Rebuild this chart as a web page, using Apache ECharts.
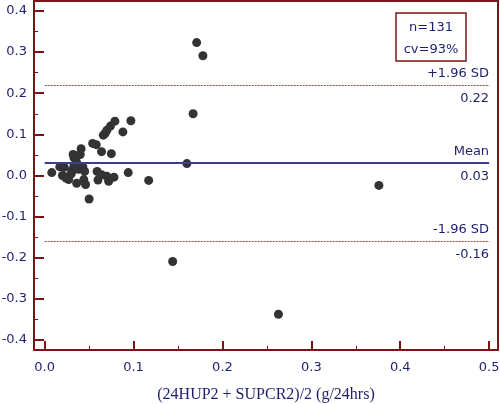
<!DOCTYPE html>
<html>
<head>
<meta charset="utf-8">
<script src="https://cdn.jsdelivr.net/npm/echarts@6/dist/echarts.min.js"></script>
<style>
  html, body { margin: 0; padding: 0; background: #fff; }
  #chart { width: 500px; height: 404px; }
</style>
</head>
<body>
<div id="chart"></div>
<script>
// mean of the two methods (x) and their difference (y)
var meanVals = [0.008, 0.017, 0.021, 0.020, 0.024, 0.029, 0.031, 0.033, 0.033, 0.032,
  0.036, 0.041, 0.040, 0.036, 0.043, 0.036, 0.044, 0.046, 0.050, 0.054,
  0.058, 0.064, 0.059, 0.060, 0.064, 0.070, 0.072, 0.078, 0.075, 0.068,
  0.070, 0.074, 0.079, 0.088, 0.097, 0.094, 0.027, 0.038, 0.030, 0.045,
  0.022, 0.034, 0.066,
  0.171, 0.178, 0.167, 0.160, 0.117, 0.376, 0.144, 0.263];
var diffVals = [0.007, 0.021, 0.021, 0.000, -0.006, 0.002, 0.013, 0.024, 0.043, 0.051,
  0.047, 0.065, 0.051, 0.031, 0.021, -0.019, -0.010, -0.022, -0.057, 0.078,
  0.075, 0.058, 0.010, -0.011, 0.002, -0.002, -0.014, -0.004, 0.053, 0.102,
  0.110, 0.120, 0.132, 0.106, 0.133, 0.007, -0.010, 0.015, 0.005, 0.010,
  0.020, 0.018, 0.098,
  0.323, 0.291, 0.150, 0.029, -0.012, -0.024, -0.209, -0.337];

var meanDiff = 0.03;
var upperLoA = 0.22;
var lowerLoA = -0.16;
var lineEnd = 0.5;

var yTicks = [-0.4, -0.3, -0.2, -0.1, 0.0, 0.1, 0.2, 0.3, 0.4];
var yMinorTicks = [-0.35, -0.25, -0.15, -0.05, 0.05, 0.15, 0.25, 0.35];
var xTicks = [0.0, 0.1, 0.2, 0.3, 0.4, 0.5];
var xMinorTicks = [0.05, 0.15, 0.25, 0.35, 0.45];

var axisRed = '#7b1416';
var navy = '#1c1f6e';

var points = meanVals.map(function (v, i) { return [v, diffVals[i]]; });

var chart = echarts.init(document.getElementById('chart'));

function limitLine(val, top, bottom, style) {
  return [
    [{ coord: [0, val], lineStyle: style, label: { position: 'insideEndTop', formatter: top, distance: [0, 5] } },
     { coord: [lineEnd, val] }],
    [{ coord: [0, val], lineStyle: { color: 'rgba(0,0,0,0)', width: 0 }, label: { position: 'insideEndBottom', formatter: bottom, distance: [0, 7] } },
     { coord: [lineEnd, val] }]
  ];
}

var dotted = { color: '#9a4a4a', type: [2, 1], width: 1 };
var solid = { color: '#3b3f8c', type: 'solid', width: 2 };

var option = {
  animation: false,
  grid: {
    left: 34, right: 2, top: 1, bottom: 54,
    outerBoundsMode: 'none', containLabel: false,
    show: true, borderColor: axisRed, borderWidth: 2
  },
  xAxis: [{
    type: 'value', min: -0.012, max: 0.51,
    splitLine: { show: false },
    axisLine: { onZero: false, lineStyle: { color: axisRed, width: 2 } },
    axisTick: { inside: true, length: 9, customValues: xTicks, lineStyle: { color: axisRed, width: 2 } },
    axisLabel: {
      customValues: xTicks, margin: 11, color: navy,
      fontFamily: 'DejaVu Sans', fontSize: 13,
      formatter: function (v) { return v.toFixed(1); }
    },
    name: '(24HUP2 + SUPCR2)/2 (g/24hrs)',
    nameLocation: 'middle', nameGap: 37,
    nameTextStyle: { color: navy, fontFamily: 'Liberation Serif', fontSize: 16 }
  }, {
    type: 'value', min: -0.012, max: 0.51, position: 'bottom',
    splitLine: { show: false }, axisLine: { show: false, onZero: false },
    axisTick: { inside: true, length: 4, customValues: xMinorTicks, lineStyle: { color: axisRed, width: 1 } },
    axisLabel: { show: false }
  }],
  yAxis: [{
    type: 'value', min: -0.424, max: 0.424, position: 'left',
    splitLine: { show: false },
    axisLine: { onZero: false, lineStyle: { color: axisRed, width: 2 } },
    axisTick: { inside: true, length: 10, customValues: yTicks, lineStyle: { color: axisRed, width: 2 } },
    axisLabel: {
      customValues: yTicks, margin: 7, color: navy,
      fontFamily: 'DejaVu Sans', fontSize: 13,
      formatter: function (v) { return v.toFixed(1); }
    }
  }, {
    type: 'value', min: -0.424, max: 0.424, position: 'left', offset: 0,
    splitLine: { show: false }, axisLine: { show: false, onZero: false },
    axisTick: { inside: true, length: 4, customValues: yMinorTicks, lineStyle: { color: axisRed, width: 1 } },
    axisLabel: { show: false }
  }],
  series: [{
    type: 'scatter',
    data: points,
    symbolSize: 9,
    itemStyle: { color: '#333333', opacity: 1 },
    markLine: {
      silent: true,
      symbol: 'none',
      label: { color: navy, fontFamily: 'DejaVu Sans', fontSize: 13 },
      data: [].concat(
        limitLine(upperLoA, '+1.96 SD', upperLoA.toFixed(2), dotted),
        limitLine(meanDiff, 'Mean', meanDiff.toFixed(2), solid),
        limitLine(lowerLoA, '-1.96 SD', lowerLoA.toFixed(2), dotted)
      )
    }
  }],
  graphic: [{
    type: 'rect', x: 396, y: 13,
    shape: { width: 70, height: 48 },
    style: { fill: '#fff', stroke: axisRed, lineWidth: 1.5 }
  }, {
    type: 'text',
    style: { text: 'n=131', fill: navy, font: '13px "DejaVu Sans"', x: 431, y: 28, align: 'center', verticalAlign: 'middle' }
  }, {
    type: 'text',
    style: { text: 'cv=93%', fill: navy, font: '13px "DejaVu Sans"', x: 431, y: 50, align: 'center', verticalAlign: 'middle' }
  }]
};

chart.setOption(option);
</script>
</body>
</html>
